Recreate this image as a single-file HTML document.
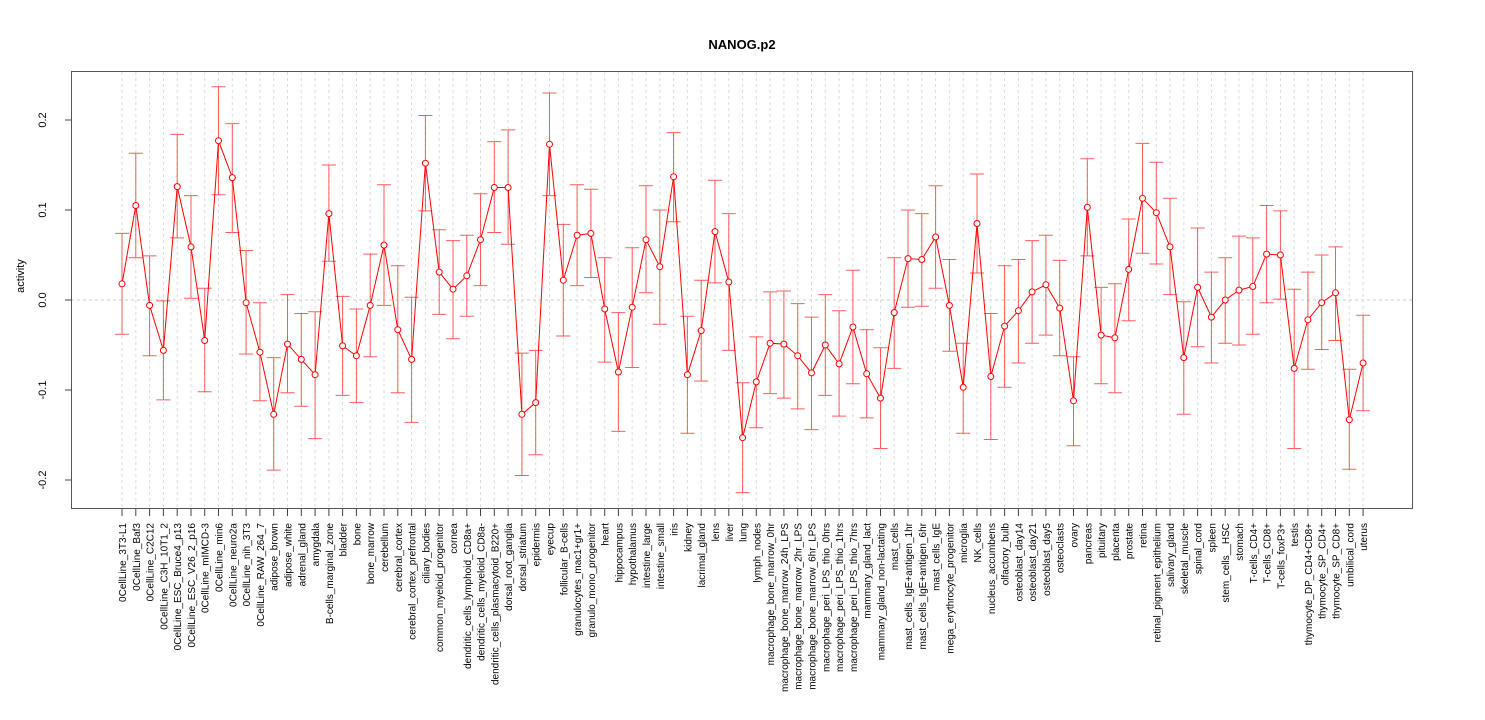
<!DOCTYPE html>
<html><head><meta charset="utf-8"><style>body{margin:0;background:#fff}svg{display:block;font-family:"Liberation Sans",sans-serif}</style></head><body>
<svg width="1485" height="720" viewBox="0 0 1485 720">
<rect width="1485" height="720" fill="#fff"/>
<text x="742" y="49" text-anchor="middle" font-size="13" font-weight="bold">NANOG.p2</text>
<line x1="71" y1="300" x2="1412" y2="300" stroke="#ccc" stroke-dasharray="3,3"/>
<g transform="translate(1,0)">
<path fill="none" stroke="#ddd" stroke-dasharray="3,3" d="M121 72V508M134.8 72V508M148.6 72V508M162.4 72V508M176.2 72V508M190 72V508M203.7 72V508M217.5 72V508M231.3 72V508M245.1 72V508M258.9 72V508M272.7 72V508M286.5 72V508M300.3 72V508M314.1 72V508M327.9 72V508M341.6 72V508M355.4 72V508M369.2 72V508M383 72V508M396.8 72V508M410.6 72V508M424.4 72V508M438.2 72V508M452 72V508M465.8 72V508M479.5 72V508M493.3 72V508M507.1 72V508M520.9 72V508M534.7 72V508M548.5 72V508M562.3 72V508M576.1 72V508M589.9 72V508M603.7 72V508M617.4 72V508M631.2 72V508M645 72V508M658.8 72V508M672.6 72V508M686.4 72V508M700.2 72V508M714 72V508M727.8 72V508M741.6 72V508M755.3 72V508M769.1 72V508M782.9 72V508M796.7 72V508M810.5 72V508M824.3 72V508M838.1 72V508M851.9 72V508M865.7 72V508M879.5 72V508M893.2 72V508M907 72V508M920.8 72V508M934.6 72V508M948.4 72V508M962.2 72V508M976 72V508M989.8 72V508M1003.6 72V508M1017.4 72V508M1031.1 72V508M1044.9 72V508M1058.7 72V508M1072.5 72V508M1086.3 72V508M1100.1 72V508M1113.9 72V508M1127.7 72V508M1141.5 72V508M1155.3 72V508M1169 72V508M1182.8 72V508M1196.6 72V508M1210.4 72V508M1224.2 72V508M1238 72V508M1251.8 72V508M1265.6 72V508M1279.4 72V508M1293.2 72V508M1306.9 72V508M1320.7 72V508M1334.5 72V508M1348.3 72V508M1362.1 72V508"/>
<path fill="none" stroke="#444" d="M121 509v7M134.8 509v7M148.6 509v7M162.4 509v7M176.2 509v7M190 509v7M203.7 509v7M217.5 509v7M231.3 509v7M245.1 509v7M258.9 509v7M272.7 509v7M286.5 509v7M300.3 509v7M314.1 509v7M327.9 509v7M341.6 509v7M355.4 509v7M369.2 509v7M383 509v7M396.8 509v7M410.6 509v7M424.4 509v7M438.2 509v7M452 509v7M465.8 509v7M479.5 509v7M493.3 509v7M507.1 509v7M520.9 509v7M534.7 509v7M548.5 509v7M562.3 509v7M576.1 509v7M589.9 509v7M603.7 509v7M617.4 509v7M631.2 509v7M645 509v7M658.8 509v7M672.6 509v7M686.4 509v7M700.2 509v7M714 509v7M727.8 509v7M741.6 509v7M755.3 509v7M769.1 509v7M782.9 509v7M796.7 509v7M810.5 509v7M824.3 509v7M838.1 509v7M851.9 509v7M865.7 509v7M879.5 509v7M893.2 509v7M907 509v7M920.8 509v7M934.6 509v7M948.4 509v7M962.2 509v7M976 509v7M989.8 509v7M1003.6 509v7M1017.4 509v7M1031.1 509v7M1044.9 509v7M1058.7 509v7M1072.5 509v7M1086.3 509v7M1100.1 509v7M1113.9 509v7M1127.7 509v7M1141.5 509v7M1155.3 509v7M1169 509v7M1182.8 509v7M1196.6 509v7M1210.4 509v7M1224.2 509v7M1238 509v7M1251.8 509v7M1265.6 509v7M1279.4 509v7M1293.2 509v7M1306.9 509v7M1320.7 509v7M1334.5 509v7M1348.3 509v7M1362.1 509v7"/>
<path fill="none" stroke="#f33" stroke-opacity="0.8" d="M121 233.4V334.2M114 233.4H128M114 334.2H128M134.8 153.3V257.7M127.8 153.3H141.8M127.8 257.7H141.8M148.6 255.9V355.8M141.6 255.9H155.6M141.6 355.8H155.6M162.4 300.9V399.9M155.4 300.9H169.4M155.4 399.9H169.4M176.2 134.4V237.9M169.2 134.4H183.2M169.2 237.9H183.2M190 195.6V298.2M183 195.6H197M183 298.2H197M203.7 288.3V391.8M196.7 288.3H210.7M196.7 391.8H210.7M217.5 86.7V194.7M210.5 86.7H224.5M210.5 194.7H224.5M231.3 123.6V232.5M224.3 123.6H238.3M224.3 232.5H238.3M245.1 250.5V354M238.1 250.5H252.1M238.1 354H252.1M258.9 302.7V400.8M251.9 302.7H265.9M251.9 400.8H265.9M272.7 357.6V470.1M265.7 357.6H279.7M265.7 470.1H279.7M286.5 294.6V392.7M279.5 294.6H293.5M279.5 392.7H293.5M300.3 313.5V406.2M293.3 313.5H307.3M293.3 406.2H307.3M314.1 311.7V438.6M307.1 311.7H321.1M307.1 438.6H321.1M327.9 165V261.3M320.9 165H334.9M320.9 261.3H334.9M341.6 296.4V395.4M334.6 296.4H348.6M334.6 395.4H348.6M355.4 309V402.6M348.4 309H362.4M348.4 402.6H362.4M369.2 254.1V356.7M362.2 254.1H376.2M362.2 356.7H376.2M383 184.8V305.4M376 184.8H390M376 305.4H390M396.8 265.8V392.7M389.8 265.8H403.8M389.8 392.7H403.8M410.6 297.3V422.4M403.6 297.3H417.6M403.6 422.4H417.6M424.4 115.5V210.9M417.4 115.5H431.4M417.4 210.9H431.4M438.2 229.8V314.4M431.2 229.8H445.2M431.2 314.4H445.2M452 240.6V338.7M445 240.6H459M445 338.7H459M465.8 235.2V316.2M458.8 235.2H472.8M458.8 316.2H472.8M479.5 193.8V285.6M472.5 193.8H486.5M472.5 285.6H486.5M493.3 141.6V232.5M486.3 141.6H500.3M486.3 232.5H500.3M507.1 129.9V244.2M500.1 129.9H514.1M500.1 244.2H514.1M520.9 353.1V475.5M513.9 353.1H527.9M513.9 475.5H527.9M534.7 350.4V454.8M527.7 350.4H541.7M527.7 454.8H541.7M548.5 93V195.6M541.5 93H555.5M541.5 195.6H555.5M562.3 224.4V336M555.3 224.4H569.3M555.3 336H569.3M576.1 184.8V285.6M569.1 184.8H583.1M569.1 285.6H583.1M589.9 189.3V277.5M582.9 189.3H596.9M582.9 277.5H596.9M603.7 257.7V362.1M596.7 257.7H610.7M596.7 362.1H610.7M617.4 312.6V431.4M610.4 312.6H624.4M610.4 431.4H624.4M631.2 247.8V367.5M624.2 247.8H638.2M624.2 367.5H638.2M645 185.7V292.8M638 185.7H652M638 292.8H652M658.8 210V324.3M651.8 210H665.8M651.8 324.3H665.8M672.6 132.6V221.7M665.6 132.6H679.6M665.6 221.7H679.6M686.4 316.2V433.2M679.4 316.2H693.4M679.4 433.2H693.4M700.2 280.2V381M693.2 280.2H707.2M693.2 381H707.2M714 180.3V282.9M707 180.3H721M707 282.9H721M727.8 213.6V350.4M720.8 213.6H734.8M720.8 350.4H734.8M741.6 382.8V492.6M734.6 382.8H748.6M734.6 492.6H748.6M755.3 336.9V427.8M748.3 336.9H762.3M748.3 427.8H762.3M769.1 291.9V393.6M762.1 291.9H776.1M762.1 393.6H776.1M782.9 291V398.1M775.9 291H789.9M775.9 398.1H789.9M796.7 303.6V408.9M789.7 303.6H803.7M789.7 408.9H803.7M810.5 317.1V429.6M803.5 317.1H817.5M803.5 429.6H817.5M824.3 294.6V395.4M817.3 294.6H831.3M817.3 395.4H831.3M838.1 310.8V416.1M831.1 310.8H845.1M831.1 416.1H845.1M851.9 270.3V383.7M844.9 270.3H858.9M844.9 383.7H858.9M865.7 329.7V417.9M858.7 329.7H872.7M858.7 417.9H872.7M879.5 347.7V448.5M872.5 347.7H886.5M872.5 448.5H886.5M893.2 257.7V368.4M886.2 257.7H900.2M886.2 368.4H900.2M907 210V307.2M900 210H914M900 307.2H914M920.8 213.6V306.3M913.8 213.6H927.8M913.8 306.3H927.8M934.6 185.7V288.3M927.6 185.7H941.6M927.6 288.3H941.6M948.4 259.5V351.3M941.4 259.5H955.4M941.4 351.3H955.4M962.2 343.2V433.2M955.2 343.2H969.2M955.2 433.2H969.2M976 174V273M969 174H983M969 273H983M989.8 313.5V439.5M982.8 313.5H996.8M982.8 439.5H996.8M1003.6 265.8V387.3M996.6 265.8H1010.6M996.6 387.3H1010.6M1017.4 259.5V363M1010.4 259.5H1024.4M1010.4 363H1024.4M1031.1 240.6V343.2M1024.1 240.6H1038.1M1024.1 343.2H1038.1M1044.9 235.2V335.1M1037.9 235.2H1051.9M1037.9 335.1H1051.9M1058.7 260.4V355.8M1051.7 260.4H1065.7M1051.7 355.8H1065.7M1072.5 356.7V445.8M1065.5 356.7H1079.5M1065.5 445.8H1079.5M1086.3 158.7V255.9M1079.3 158.7H1093.3M1079.3 255.9H1093.3M1100.1 287.4V383.7M1093.1 287.4H1107.1M1093.1 383.7H1107.1M1113.9 283.8V392.7M1106.9 283.8H1120.9M1106.9 392.7H1120.9M1127.7 219V320.7M1120.7 219H1134.7M1120.7 320.7H1134.7M1141.5 143.4V253.2M1134.5 143.4H1148.5M1134.5 253.2H1148.5M1155.3 162.3V264M1148.3 162.3H1162.3M1148.3 264H1162.3M1169 198.3V294.6M1162 198.3H1176M1162 294.6H1176M1182.8 301.8V414.3M1175.8 301.8H1189.8M1175.8 414.3H1189.8M1196.6 228V346.8M1189.6 228H1203.6M1189.6 346.8H1203.6M1210.4 272.1V363M1203.4 272.1H1217.4M1203.4 363H1217.4M1224.2 257.7V343.2M1217.2 257.7H1231.2M1217.2 343.2H1231.2M1238 236.1V345M1231 236.1H1245M1231 345H1245M1251.8 237.9V334.2M1244.8 237.9H1258.8M1244.8 334.2H1258.8M1265.6 205.5V302.7M1258.6 205.5H1272.6M1258.6 302.7H1272.6M1279.4 210.9V299.1M1272.4 210.9H1286.4M1272.4 299.1H1286.4M1293.2 289.2V448.5M1286.2 289.2H1300.2M1286.2 448.5H1300.2M1306.9 272.1V369.3M1299.9 272.1H1313.9M1299.9 369.3H1313.9M1320.7 255V349.5M1313.7 255H1327.7M1313.7 349.5H1327.7M1334.5 246.9V340.5M1327.5 246.9H1341.5M1327.5 340.5H1341.5M1348.3 369.3V469.2M1341.3 369.3H1355.3M1341.3 469.2H1355.3M1362.1 315.3V410.7M1355.1 315.3H1369.1M1355.1 410.7H1369.1"/>
<polyline fill="none" stroke="#f00" points="121,283.8 134.8,205.5 148.6,305.4 162.4,350.4 176.2,186.6 190,246.9 203.7,340.5 217.5,140.7 231.3,177.6 245.1,302.7 258.9,352.2 272.7,414.3 286.5,344.1 300.3,359.4 314.1,374.7 327.9,213.6 341.6,345.9 355.4,355.8 369.2,305.4 383,245.1 396.8,329.7 410.6,359.4 424.4,163.2 438.2,272.1 452,289.2 465.8,275.7 479.5,239.7 493.3,187.5 507.1,187.5 520.9,414.3 534.7,402.6 548.5,144.3 562.3,280.2 576.1,235.2 589.9,233.4 603.7,309 617.4,372 631.2,307.2 645,239.7 658.8,266.7 672.6,176.7 686.4,374.7 700.2,330.6 714,231.6 727.8,282 741.6,437.7 755.3,381.9 769.1,343.2 782.9,344.1 796.7,355.8 810.5,372.9 824.3,345 838.1,363.9 851.9,327 865.7,373.8 879.5,398.1 893.2,312.6 907,258.6 920.8,259.5 934.6,237 948.4,305.4 962.2,387.3 976,223.5 989.8,376.5 1003.6,326.1 1017.4,310.8 1031.1,291.9 1044.9,284.7 1058.7,308.1 1072.5,400.8 1086.3,207.3 1100.1,335.1 1113.9,337.8 1127.7,269.4 1141.5,198.3 1155.3,212.7 1169,246.9 1182.8,357.6 1196.6,287.4 1210.4,317.1 1224.2,300 1238,290.1 1251.8,286.5 1265.6,254.1 1279.4,255 1293.2,368.4 1306.9,319.8 1320.7,302.7 1334.5,292.8 1348.3,419.7 1362.1,363"/>
<g fill="#fff" stroke="#f00">
<circle cx="121" cy="283.8" r="3"/><circle cx="134.8" cy="205.5" r="3"/><circle cx="148.6" cy="305.4" r="3"/><circle cx="162.4" cy="350.4" r="3"/><circle cx="176.2" cy="186.6" r="3"/><circle cx="190" cy="246.9" r="3"/><circle cx="203.7" cy="340.5" r="3"/><circle cx="217.5" cy="140.7" r="3"/><circle cx="231.3" cy="177.6" r="3"/><circle cx="245.1" cy="302.7" r="3"/><circle cx="258.9" cy="352.2" r="3"/><circle cx="272.7" cy="414.3" r="3"/><circle cx="286.5" cy="344.1" r="3"/><circle cx="300.3" cy="359.4" r="3"/><circle cx="314.1" cy="374.7" r="3"/><circle cx="327.9" cy="213.6" r="3"/><circle cx="341.6" cy="345.9" r="3"/><circle cx="355.4" cy="355.8" r="3"/><circle cx="369.2" cy="305.4" r="3"/><circle cx="383" cy="245.1" r="3"/><circle cx="396.8" cy="329.7" r="3"/><circle cx="410.6" cy="359.4" r="3"/><circle cx="424.4" cy="163.2" r="3"/><circle cx="438.2" cy="272.1" r="3"/><circle cx="452" cy="289.2" r="3"/><circle cx="465.8" cy="275.7" r="3"/><circle cx="479.5" cy="239.7" r="3"/><circle cx="493.3" cy="187.5" r="3"/><circle cx="507.1" cy="187.5" r="3"/><circle cx="520.9" cy="414.3" r="3"/><circle cx="534.7" cy="402.6" r="3"/><circle cx="548.5" cy="144.3" r="3"/><circle cx="562.3" cy="280.2" r="3"/><circle cx="576.1" cy="235.2" r="3"/><circle cx="589.9" cy="233.4" r="3"/><circle cx="603.7" cy="309" r="3"/><circle cx="617.4" cy="372" r="3"/><circle cx="631.2" cy="307.2" r="3"/><circle cx="645" cy="239.7" r="3"/><circle cx="658.8" cy="266.7" r="3"/><circle cx="672.6" cy="176.7" r="3"/><circle cx="686.4" cy="374.7" r="3"/><circle cx="700.2" cy="330.6" r="3"/><circle cx="714" cy="231.6" r="3"/><circle cx="727.8" cy="282" r="3"/><circle cx="741.6" cy="437.7" r="3"/><circle cx="755.3" cy="381.9" r="3"/><circle cx="769.1" cy="343.2" r="3"/><circle cx="782.9" cy="344.1" r="3"/><circle cx="796.7" cy="355.8" r="3"/><circle cx="810.5" cy="372.9" r="3"/><circle cx="824.3" cy="345" r="3"/><circle cx="838.1" cy="363.9" r="3"/><circle cx="851.9" cy="327" r="3"/><circle cx="865.7" cy="373.8" r="3"/><circle cx="879.5" cy="398.1" r="3"/><circle cx="893.2" cy="312.6" r="3"/><circle cx="907" cy="258.6" r="3"/><circle cx="920.8" cy="259.5" r="3"/><circle cx="934.6" cy="237" r="3"/><circle cx="948.4" cy="305.4" r="3"/><circle cx="962.2" cy="387.3" r="3"/><circle cx="976" cy="223.5" r="3"/><circle cx="989.8" cy="376.5" r="3"/><circle cx="1003.6" cy="326.1" r="3"/><circle cx="1017.4" cy="310.8" r="3"/><circle cx="1031.1" cy="291.9" r="3"/><circle cx="1044.9" cy="284.7" r="3"/><circle cx="1058.7" cy="308.1" r="3"/><circle cx="1072.5" cy="400.8" r="3"/><circle cx="1086.3" cy="207.3" r="3"/><circle cx="1100.1" cy="335.1" r="3"/><circle cx="1113.9" cy="337.8" r="3"/><circle cx="1127.7" cy="269.4" r="3"/><circle cx="1141.5" cy="198.3" r="3"/><circle cx="1155.3" cy="212.7" r="3"/><circle cx="1169" cy="246.9" r="3"/><circle cx="1182.8" cy="357.6" r="3"/><circle cx="1196.6" cy="287.4" r="3"/><circle cx="1210.4" cy="317.1" r="3"/><circle cx="1224.2" cy="300" r="3"/><circle cx="1238" cy="290.1" r="3"/><circle cx="1251.8" cy="286.5" r="3"/><circle cx="1265.6" cy="254.1" r="3"/><circle cx="1279.4" cy="255" r="3"/><circle cx="1293.2" cy="368.4" r="3"/><circle cx="1306.9" cy="319.8" r="3"/><circle cx="1320.7" cy="302.7" r="3"/><circle cx="1334.5" cy="292.8" r="3"/><circle cx="1348.3" cy="419.7" r="3"/><circle cx="1362.1" cy="363" r="3"/>
</g>
<g font-size="10" text-anchor="end">
<text transform="translate(125,523) rotate(-90)">0CellLine_3T3-L1</text>
<text transform="translate(138.8,523) rotate(-90)">0CellLine_Baf3</text>
<text transform="translate(152.6,523) rotate(-90)">0CellLine_C2C12</text>
<text transform="translate(166.4,523) rotate(-90)">0CellLine_C3H_10T1_2</text>
<text transform="translate(180.2,523) rotate(-90)">0CellLine_ESC_Bruce4_p13</text>
<text transform="translate(194,523) rotate(-90)">0CellLine_ESC_V26_2_p16</text>
<text transform="translate(207.7,523) rotate(-90)">0CellLine_mIMCD-3</text>
<text transform="translate(221.5,523) rotate(-90)">0CellLine_min6</text>
<text transform="translate(235.3,523) rotate(-90)">0CellLine_neuro2a</text>
<text transform="translate(249.1,523) rotate(-90)">0CellLine_nih_3T3</text>
<text transform="translate(262.9,523) rotate(-90)">0CellLine_RAW_264_7</text>
<text transform="translate(276.7,523) rotate(-90)">adipose_brown</text>
<text transform="translate(290.5,523) rotate(-90)">adipose_white</text>
<text transform="translate(304.3,523) rotate(-90)">adrenal_gland</text>
<text transform="translate(318.1,523) rotate(-90)">amygdala</text>
<text transform="translate(331.9,523) rotate(-90)">B-cells_marginal_zone</text>
<text transform="translate(345.6,523) rotate(-90)">bladder</text>
<text transform="translate(359.4,523) rotate(-90)">bone</text>
<text transform="translate(373.2,523) rotate(-90)">bone_marrow</text>
<text transform="translate(387,523) rotate(-90)">cerebellum</text>
<text transform="translate(400.8,523) rotate(-90)">cerebral_cortex</text>
<text transform="translate(414.6,523) rotate(-90)">cerebral_cortex_prefrontal</text>
<text transform="translate(428.4,523) rotate(-90)">ciliary_bodies</text>
<text transform="translate(442.2,523) rotate(-90)">common_myeloid_progenitor</text>
<text transform="translate(456,523) rotate(-90)">cornea</text>
<text transform="translate(469.8,523) rotate(-90)">dendritic_cells_lymphoid_CD8a+</text>
<text transform="translate(483.5,523) rotate(-90)">dendritic_cells_myeloid_CD8a-</text>
<text transform="translate(497.3,523) rotate(-90)">dendritic_cells_plasmacytoid_B220+</text>
<text transform="translate(511.1,523) rotate(-90)">dorsal_root_ganglia</text>
<text transform="translate(524.9,523) rotate(-90)">dorsal_striatum</text>
<text transform="translate(538.7,523) rotate(-90)">epidermis</text>
<text transform="translate(552.5,523) rotate(-90)">eyecup</text>
<text transform="translate(566.3,523) rotate(-90)">follicular_B-cells</text>
<text transform="translate(580.1,523) rotate(-90)">granulocytes_mac1+gr1+</text>
<text transform="translate(593.9,523) rotate(-90)">granulo_mono_progenitor</text>
<text transform="translate(607.7,523) rotate(-90)">heart</text>
<text transform="translate(621.4,523) rotate(-90)">hippocampus</text>
<text transform="translate(635.2,523) rotate(-90)">hypothalamus</text>
<text transform="translate(649,523) rotate(-90)">intestine_large</text>
<text transform="translate(662.8,523) rotate(-90)">intestine_small</text>
<text transform="translate(676.6,523) rotate(-90)">iris</text>
<text transform="translate(690.4,523) rotate(-90)">kidney</text>
<text transform="translate(704.2,523) rotate(-90)">lacrimal_gland</text>
<text transform="translate(718,523) rotate(-90)">lens</text>
<text transform="translate(731.8,523) rotate(-90)">liver</text>
<text transform="translate(745.6,523) rotate(-90)">lung</text>
<text transform="translate(759.3,523) rotate(-90)">lymph_nodes</text>
<text transform="translate(773.1,523) rotate(-90)">macrophage_bone_marrow_0hr</text>
<text transform="translate(786.9,523) rotate(-90)">macrophage_bone_marrow_24h_LPS</text>
<text transform="translate(800.7,523) rotate(-90)">macrophage_bone_marrow_2hr_LPS</text>
<text transform="translate(814.5,523) rotate(-90)">macrophage_bone_marrow_6hr_LPS</text>
<text transform="translate(828.3,523) rotate(-90)">macrophage_peri_LPS_thio_0hrs</text>
<text transform="translate(842.1,523) rotate(-90)">macrophage_peri_LPS_thio_1hrs</text>
<text transform="translate(855.9,523) rotate(-90)">macrophage_peri_LPS_thio_7hrs</text>
<text transform="translate(869.7,523) rotate(-90)">mammary_gland_lact</text>
<text transform="translate(883.5,523) rotate(-90)">mammary_gland_non-lactating</text>
<text transform="translate(897.2,523) rotate(-90)">mast_cells</text>
<text transform="translate(911,523) rotate(-90)">mast_cells_IgE+antigen_1hr</text>
<text transform="translate(924.8,523) rotate(-90)">mast_cells_IgE+antigen_6hr</text>
<text transform="translate(938.6,523) rotate(-90)">mast_cells_IgE</text>
<text transform="translate(952.4,523) rotate(-90)">mega_erythrocyte_progenitor</text>
<text transform="translate(966.2,523) rotate(-90)">microglia</text>
<text transform="translate(980,523) rotate(-90)">NK_cells</text>
<text transform="translate(993.8,523) rotate(-90)">nucleus_accumbens</text>
<text transform="translate(1007.6,523) rotate(-90)">olfactory_bulb</text>
<text transform="translate(1021.4,523) rotate(-90)">osteoblast_day14</text>
<text transform="translate(1035.1,523) rotate(-90)">osteoblast_day21</text>
<text transform="translate(1048.9,523) rotate(-90)">osteoblast_day5</text>
<text transform="translate(1062.7,523) rotate(-90)">osteoclasts</text>
<text transform="translate(1076.5,523) rotate(-90)">ovary</text>
<text transform="translate(1090.3,523) rotate(-90)">pancreas</text>
<text transform="translate(1104.1,523) rotate(-90)">pituitary</text>
<text transform="translate(1117.9,523) rotate(-90)">placenta</text>
<text transform="translate(1131.7,523) rotate(-90)">prostate</text>
<text transform="translate(1145.5,523) rotate(-90)">retina</text>
<text transform="translate(1159.3,523) rotate(-90)">retinal_pigment_epithelium</text>
<text transform="translate(1173,523) rotate(-90)">salivary_gland</text>
<text transform="translate(1186.8,523) rotate(-90)">skeletal_muscle</text>
<text transform="translate(1200.6,523) rotate(-90)">spinal_cord</text>
<text transform="translate(1214.4,523) rotate(-90)">spleen</text>
<text transform="translate(1228.2,523) rotate(-90)">stem_cells__HSC</text>
<text transform="translate(1242,523) rotate(-90)">stomach</text>
<text transform="translate(1255.8,523) rotate(-90)">T-cells_CD4+</text>
<text transform="translate(1269.6,523) rotate(-90)">T-cells_CD8+</text>
<text transform="translate(1283.4,523) rotate(-90)">T-cells_foxP3+</text>
<text transform="translate(1297.2,523) rotate(-90)">testis</text>
<text transform="translate(1310.9,523) rotate(-90)">thymocyte_DP_CD4+CD8+</text>
<text transform="translate(1324.7,523) rotate(-90)">thymocyte_SP_CD4+</text>
<text transform="translate(1338.5,523) rotate(-90)">thymocyte_SP_CD8+</text>
<text transform="translate(1352.3,523) rotate(-90)">umbilical_cord</text>
<text transform="translate(1366.1,523) rotate(-90)">uterus</text>
</g>
</g>
<rect x="71.5" y="71.5" width="1341" height="437" fill="none" stroke="#555"/>
<g stroke="#444"><line x1="71" y1="120" x2="65" y2="120"/><line x1="71" y1="210" x2="65" y2="210"/><line x1="71" y1="300" x2="65" y2="300"/><line x1="71" y1="390" x2="65" y2="390"/><line x1="71" y1="480" x2="65" y2="480"/></g>
<g font-size="11" text-anchor="middle">
<text transform="translate(46,120) rotate(-90)">0.2</text>
<text transform="translate(46,210) rotate(-90)">0.1</text>
<text transform="translate(46,300) rotate(-90)">0.0</text>
<text transform="translate(46,390) rotate(-90)">-0.1</text>
<text transform="translate(46,480) rotate(-90)">-0.2</text>
<text transform="translate(24,276) rotate(-90)">activity</text>
</g>
</svg>
</body></html>
